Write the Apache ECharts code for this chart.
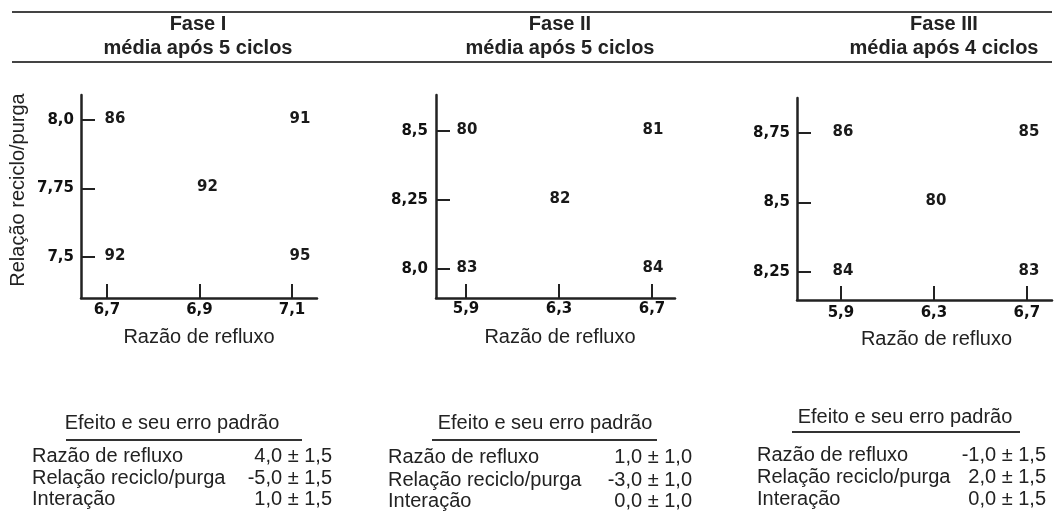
<!DOCTYPE html>
<html>
<head>
<meta charset="utf-8">
<script src="https://cdn.jsdelivr.net/npm/echarts@6/dist/echarts.min.js"></script>
<style>
  html, body { margin: 0; padding: 0; background: #ffffff; }
  #chart { width: 1058px; height: 524px; }
</style>
</head>
<body>
<div id="chart"></div>
<script>
// Phase headers
const phaseNames = ['Fase I', 'Fase II', 'Fase III'];
const phaseCycles = ['média após 5 ciclos', 'média após 5 ciclos', 'média após 4 ciclos'];

// Axis tick values per phase (reflux ratio on x, recycle/purge ratio on y)
const xTicks1 = [6.7, 6.9, 7.1];
const yTicks1 = [7.5, 7.75, 8.0];
const xTicks2 = [5.9, 6.3, 6.7];
const yTicks2 = [8.0, 8.25, 8.5];
const xTicks3 = [5.9, 6.3, 6.7];
const yTicks3 = [8.25, 8.5, 8.75];

// Mean response at each design point: [reflux ratio, recycle/purge ratio, response]
const points1 = [[6.7, 8.0, 86], [7.1, 8.0, 91], [6.9, 7.75, 92], [6.7, 7.5, 92], [7.1, 7.5, 95]];
const points2 = [[5.9, 8.5, 80], [6.7, 8.5, 81], [6.3, 8.25, 82], [5.9, 8.0, 83], [6.7, 8.0, 84]];
const points3 = [[5.9, 8.75, 86], [6.7, 8.75, 85], [6.3, 8.5, 80], [5.9, 8.25, 84], [6.7, 8.25, 83]];

// Effects and their standard errors
const effectNames = ['Razão de refluxo', 'Relação reciclo/purga', 'Interação'];
const effects1 = [4.0, -5.0, 1.0];
const errors1 = [1.5, 1.5, 1.5];
const effects2 = [1.0, -3.0, 0.0];
const errors2 = [1.0, 1.0, 1.0];
const effects3 = [-1.0, 2.0, 0.0];
const errors3 = [1.5, 1.5, 1.5];

const xName = 'Razão de refluxo';
const yName = 'Relação reciclo/purga';
const tableTitle = 'Efeito e seu erro padrão';

const INK = '#222';
const SANS = '"Liberation Sans", Arial, sans-serif';
const WIDE = '"DejaVu Sans", sans-serif';

function fmtNum(v) {
  const s = Number.isInteger(v) ? v.toFixed(1) : String(v);
  return s.replace('.', ',');
}
function fmtEffect(v, e) {
  return v.toFixed(1).replace('.', ',') + ' ± ' + e.toFixed(1).replace('.', ',');
}

// Panel layout (grid boxes and axis extents)
const panels = [
  { grid: { left: 81, top: 95, width: 236, height: 203 },
    x: { min: 6.644, max: 7.154, ticks: xTicks1, labelMargin: 5, namePad: [0, 0, 0, 0] },
    y: { min: 7.350, max: 8.091, ticks: yTicks1, labelMargin: 7 },
    data: points1, labelOffset: [8, -1], showYName: true,
    headerX: 198,
    table: { titleX: 172, titleY: 423, lineX1: 66, lineX2: 302, lineY: 440,
             left: 32, right: 332, rows: [456, 478, 499],
             effects: effects1, errors: errors1 } },
  { grid: { left: 436, top: 95, width: 239, height: 203 },
    x: { min: 5.771, max: 6.799, ticks: xTicks2, labelMargin: 4, namePad: [0, 0, 0, 9] },
    y: { min: 7.895, max: 8.630, ticks: yTicks2, labelMargin: 8 },
    data: points2, labelOffset: [1, -1], showYName: false,
    headerX: 560,
    table: { titleX: 545, titleY: 423, lineX1: 432, lineX2: 657, lineY: 440,
             left: 388, right: 692, rows: [457, 480, 501],
             effects: effects2, errors: errors2 } },
  { grid: { left: 797, top: 98, width: 255, height: 202 },
    x: { min: 5.711, max: 6.808, ticks: xTicks3, labelMargin: 6, namePad: [0, 0, 0, 24] },
    y: { min: 8.149, max: 8.876, ticks: yTicks3, labelMargin: 7 },
    data: points3, labelOffset: [2, -1], showYName: false,
    headerX: 944,
    table: { titleX: 905, titleY: 417, lineX1: 792, lineX2: 1020, lineY: 432,
             left: 757, right: 1046, rows: [455, 477, 499],
             effects: effects3, errors: errors3 } }
];

const axisLine = { show: true, lineStyle: { color: INK, width: 2.5 } };

const grids = [], xAxes = [], yAxes = [], series = [], graphics = [];

panels.forEach((p, i) => {
  grids.push(Object.assign({ containLabel: false }, p.grid));

  xAxes.push({
    type: 'value', gridIndex: i, min: p.x.min, max: p.x.max,
    axisLine: axisLine,
    axisTick: { show: true, inside: true, length: 14, customValues: p.x.ticks,
                lineStyle: { color: INK, width: 2 } },
    axisLabel: { show: true, customValues: p.x.ticks, margin: p.x.labelMargin,
                 formatter: fmtNum, fontFamily: WIDE, fontWeight: 'bold', fontSize: 15, color: '#111' },
    splitLine: { show: false },
    name: xName, nameLocation: 'middle', nameGap: 29,
    nameTextStyle: { fontFamily: SANS, fontSize: 20, color: INK, padding: p.x.namePad }
  });

  yAxes.push({
    type: 'value', gridIndex: i, min: p.y.min, max: p.y.max,
    axisLine: axisLine,
    axisTick: { show: true, inside: true, length: 14, customValues: p.y.ticks,
                lineStyle: { color: INK, width: 2 } },
    axisLabel: { show: true, customValues: p.y.ticks, margin: p.y.labelMargin,
                 formatter: fmtNum, fontFamily: WIDE, fontWeight: 'bold', fontSize: 15, color: '#111' },
    splitLine: { show: false },
    name: p.showYName ? yName : '', nameLocation: 'middle', nameGap: 53,
    nameTextStyle: { fontFamily: SANS, fontSize: 20, color: INK, padding: [0, 0, 0, 13] }
  });

  series.push({
    type: 'scatter', xAxisIndex: i, yAxisIndex: i,
    data: p.data, symbolSize: 0, silent: true,
    itemStyle: { color: INK, opacity: 1 },
    label: { show: true, position: 'inside', offset: p.labelOffset,
             formatter: d => String(d.value[2]),
             fontFamily: WIDE, fontWeight: 'bold', fontSize: 15, color: '#1a1a1a',
             textBorderWidth: 0, opacity: 1 }
  });

  // Phase header
  graphics.push({ type: 'text', silent: true,
    style: { text: phaseNames[i], x: p.headerX, y: 24, textAlign: 'center', textVerticalAlign: 'middle',
             font: 'bold 20px ' + SANS, fill: INK } });
  graphics.push({ type: 'text', silent: true,
    style: { text: phaseCycles[i], x: p.headerX, y: 48, textAlign: 'center', textVerticalAlign: 'middle',
             font: 'bold 20px ' + SANS, fill: INK } });

  // Effects table
  const t = p.table;
  graphics.push({ type: 'text', silent: true,
    style: { text: tableTitle, x: t.titleX, y: t.titleY, textAlign: 'center', textVerticalAlign: 'middle',
             font: '20px ' + SANS, fill: INK } });
  graphics.push({ type: 'line', silent: true,
    shape: { x1: t.lineX1, y1: t.lineY, x2: t.lineX2, y2: t.lineY },
    style: { stroke: '#333', lineWidth: 2 } });
  effectNames.forEach((name, r) => {
    graphics.push({ type: 'text', silent: true,
      style: { text: name, x: t.left, y: t.rows[r], textAlign: 'left', textVerticalAlign: 'middle',
               font: '20px ' + SANS, fill: INK } });
    graphics.push({ type: 'text', silent: true,
      style: { text: fmtEffect(t.effects[r], t.errors[r]), x: t.right, y: t.rows[r],
               textAlign: 'right', textVerticalAlign: 'middle', font: '20px ' + SANS, fill: INK } });
  });
});

// Rules framing the phase headers
graphics.push({ type: 'line', silent: true, shape: { x1: 12, y1: 12, x2: 1052, y2: 12 },
                style: { stroke: '#444', lineWidth: 2 } });
graphics.push({ type: 'line', silent: true, shape: { x1: 12, y1: 62, x2: 1052, y2: 62 },
                style: { stroke: '#444', lineWidth: 2 } });

const chart = echarts.init(document.getElementById('chart'), null, { renderer: 'canvas' });
chart.setOption({
  backgroundColor: '#ffffff',
  animation: false,
  grid: grids,
  xAxis: xAxes,
  yAxis: yAxes,
  series: series,
  graphic: graphics
});
</script>
</body>
</html>
